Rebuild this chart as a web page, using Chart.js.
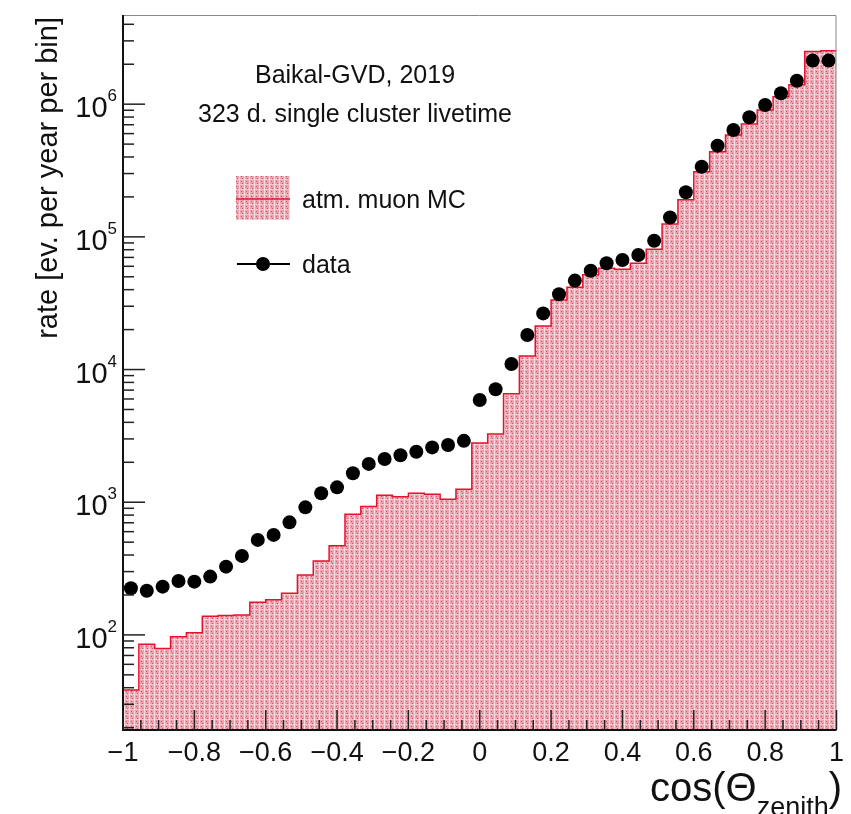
<!DOCTYPE html>
<html>
<head>
<meta charset="utf-8">
<script src="https://cdn.jsdelivr.net/npm/chart.js@4.4.1/dist/chart.umd.min.js"></script>
<style>
  html, body { margin: 0; padding: 0; background: #fff; }
  #wrap { width: 851px; height: 814px; }
</style>
</head>
<body>
<div id="wrap"><canvas id="zenithChart" width="851" height="814"></canvas></div>
<script>
// binning of cos(zenith): 45 bins from -1 to 1
const xMin = -1;
const xMax = 1;
const nBins = 45;

// atm. muon MC, rate per bin
const mcRate = [
  38.5, 85, 79, 97, 104, 138, 140, 141, 176, 184,
  206, 283, 361, 469, 810, 927, 1130, 1100, 1170, 1150,
  1054, 1250, 2790, 3270, 6580, 12650, 21300, 33400, 41700, 51700,
  58000, 57000, 63200, 80700, 125000, 190000, 309000, 438000, 585000, 709000,
  904000, 1140000, 1400000, 2490000, 2530000
];

// data, rate per bin
const dataRate = [
  225, 215, 231, 255, 252, 275, 327, 394, 520, 567,
  705, 915, 1170, 1295, 1655, 1945, 2115, 2260, 2400, 2590,
  2700, 2900, 5900, 7100, 11000, 18200, 26500, 36900, 46800, 55600,
  63200, 66900, 73000, 93500, 140000, 217000, 338000, 487000, 639000, 796000,
  986000, 1210000, 1500000, 2130000, 2130000
];

const xTicks = [-1, -0.8, -0.6, -0.4, -0.2, 0, 0.2, 0.4, 0.6, 0.8, 1];
const yDecades = [2, 3, 4, 5, 6];
const yMin = 19.2;
const yMax = 4.7e6;

const FONT = '"Liberation Sans", Arial, sans-serif';
const binWidth = (xMax - xMin) / nBins;

// histogram as stepped line: lower edges + closing point at xMax
const mcPoints = mcRate.map((v, i) => ({ x: xMin + i * binWidth, y: v }));
mcPoints.push({ x: xMax, y: mcRate[nBins - 1] });
const dataPoints = dataRate.map((v, i) => ({ x: xMin + (i + 0.5) * binWidth, y: v }));

// ROOT-like dotted pink fill
function makePattern() {
  const c = document.createElement('canvas');
  c.width = 5; c.height = 5;
  const g = c.getContext('2d');
  g.fillStyle = '#eba3b0';
  g.fillRect(0, 0, 5, 5);
  g.fillStyle = '#f9dae0';
  g.fillRect(4, 0, 1, 5);
  g.fillStyle = '#f3c8d0';
  g.fillRect(0, 4, 4, 1);
  g.fillStyle = '#c45a6c';
  g.fillRect(1, 1, 1, 1);
  g.fillRect(2, 3, 1, 1);
  return g.createPattern(c, 'repeat');
}
const pattern = makePattern();

function fmtX(v) {
  const r = Math.round(v * 10) / 10;
  if (r === 0) return '0';
  return (r < 0 ? '\u2212' : '') + String(Math.abs(r));
}

const rootStyle = {
  id: 'rootStyle',
  afterDatasetsDraw(chart) {
    const ctx = chart.ctx;
    const a = chart.chartArea;
    const xs = chart.scales.x;
    const ys = chart.scales.y;
    ctx.save();

    // frame
    ctx.strokeStyle = '#888';
    ctx.lineWidth = 1;
    ctx.beginPath();
    ctx.moveTo(a.left, a.top + 0.5);
    ctx.lineTo(a.right - 0.5, a.top + 0.5);
    ctx.lineTo(a.right - 0.5, a.bottom);
    ctx.stroke();
    ctx.strokeStyle = '#111';
    ctx.lineWidth = 2;
    ctx.beginPath();
    ctx.moveTo(a.left, a.top);
    ctx.lineTo(a.left, a.bottom);
    ctx.lineTo(a.right, a.bottom);
    ctx.stroke();

    // x ticks inside the frame
    ctx.lineWidth = 1.5;
    ctx.strokeStyle = '#222';
    for (let i = 0; i <= 40; i++) {
      const v = xMin + i * 0.05;
      const px = xs.getPixelForValue(v);
      const len = i % 4 === 0 ? 20 : 10;
      ctx.beginPath();
      ctx.moveTo(px, a.bottom);
      ctx.lineTo(px, a.bottom - len);
      ctx.stroke();
    }
    // y ticks inside the frame
    for (let k = 1; k <= 6; k++) {
      for (let m = 1; m <= 9; m++) {
        const v = m * Math.pow(10, k);
        if (v < yMin || v > yMax) continue;
        const py = ys.getPixelForValue(v);
        const len = m === 1 ? 22 : 11;
        ctx.beginPath();
        ctx.moveTo(a.left, py);
        ctx.lineTo(a.left + len, py);
        ctx.stroke();
      }
    }

    // y labels 10^n
    ctx.fillStyle = '#111';
    ctx.textAlign = 'right';
    ctx.textBaseline = 'alphabetic';
    yDecades.forEach(k => {
      const py = ys.getPixelForValue(Math.pow(10, k));
      ctx.font = '17px ' + FONT;
      const ew = ctx.measureText(String(k)).width;
      ctx.fillText(String(k), 117, py - 3);
      ctx.font = '29px ' + FONT;
      ctx.fillText('10', 117 - ew, py + 13);
    });

    // y title
    ctx.save();
    ctx.translate(57, 17);
    ctx.rotate(-Math.PI / 2);
    ctx.font = '29px ' + FONT;
    ctx.textAlign = 'right';
    ctx.fillText('rate [ev. per year per bin]', 0, 0);
    ctx.restore();

    // x title cos(Θ_zenith)
    ctx.textAlign = 'left';
    ctx.font = '40px ' + FONT;
    const w1 = ctx.measureText('cos(\u0398').width;
    const w3 = ctx.measureText(')').width;
    ctx.font = '27px ' + FONT;
    const w2 = ctx.measureText('zenith').width;
    let tx = 842 - (w1 + w2 + w3);
    ctx.font = '40px ' + FONT;
    ctx.fillText('cos(\u0398', tx, 801);
    tx += w1;
    ctx.font = '27px ' + FONT;
    ctx.fillText('zenith', tx, 816);
    tx += w2;
    ctx.font = '40px ' + FONT;
    ctx.fillText(')', tx, 801);

    // header texts
    ctx.textAlign = 'center';
    ctx.font = '25px ' + FONT;
    ctx.fillText('Baikal-GVD, 2019', 355, 83);
    ctx.fillText('323 d. single cluster livetime', 355, 122);

    // legend
    ctx.fillStyle = pattern;
    ctx.fillRect(236, 176, 54, 44);
    ctx.strokeStyle = '#e8112d';
    ctx.lineWidth = 1.5;
    ctx.beginPath();
    ctx.moveTo(236, 199);
    ctx.lineTo(290, 199);
    ctx.stroke();
    ctx.strokeStyle = '#000';
    ctx.lineWidth = 2;
    ctx.beginPath();
    ctx.moveTo(237, 264);
    ctx.lineTo(290, 264);
    ctx.stroke();
    ctx.fillStyle = '#000';
    ctx.beginPath();
    ctx.arc(263, 264, 7, 0, Math.PI * 2);
    ctx.fill();
    ctx.fillStyle = '#111';
    ctx.textAlign = 'left';
    ctx.fillText('atm. muon MC', 302, 208);
    ctx.fillText('data', 302, 273);

    ctx.restore();
  }
};

new Chart(document.getElementById('zenithChart'), {
  type: 'line',
  data: {
    datasets: [
      {
        label: 'data',
        data: dataPoints,
        showLine: false,
        pointRadius: 7,
        pointBackgroundColor: '#000',
        pointBorderWidth: 0
      },
      {
        label: 'atm. muon MC',
        data: mcPoints,
        stepped: 'before',
        borderColor: '#e8112d',
        borderWidth: 1.5,
        pointRadius: 0,
        fill: 'start',
        backgroundColor: pattern
      }
    ]
  },
  options: {
    responsive: false,
    animation: false,
    layout: { padding: { left: 0, top: 15, right: 13, bottom: 0 } },
    plugins: {
      legend: { display: false },
      tooltip: { enabled: false }
    },
    scales: {
      x: {
        type: 'linear',
        min: xMin,
        max: xMax,
        afterBuildTicks: s => { s.ticks = xTicks.map(v => ({ value: v })); },
        afterFit: s => { s.height = 84; },
        grid: { display: false, drawTicks: false },
        border: { display: false },
        ticks: {
          autoSkip: false,
          maxRotation: 0,
          padding: 7,
          color: '#111',
          font: { family: FONT, size: 27 },
          callback: v => fmtX(v)
        }
      },
      y: {
        type: 'logarithmic',
        min: yMin,
        max: yMax,
        afterFit: s => { s.width = 123; },
        grid: { display: false, drawTicks: false },
        border: { display: false },
        ticks: { display: false }
      }
    }
  },
  plugins: [rootStyle]
});
</script>
</body>
</html>
